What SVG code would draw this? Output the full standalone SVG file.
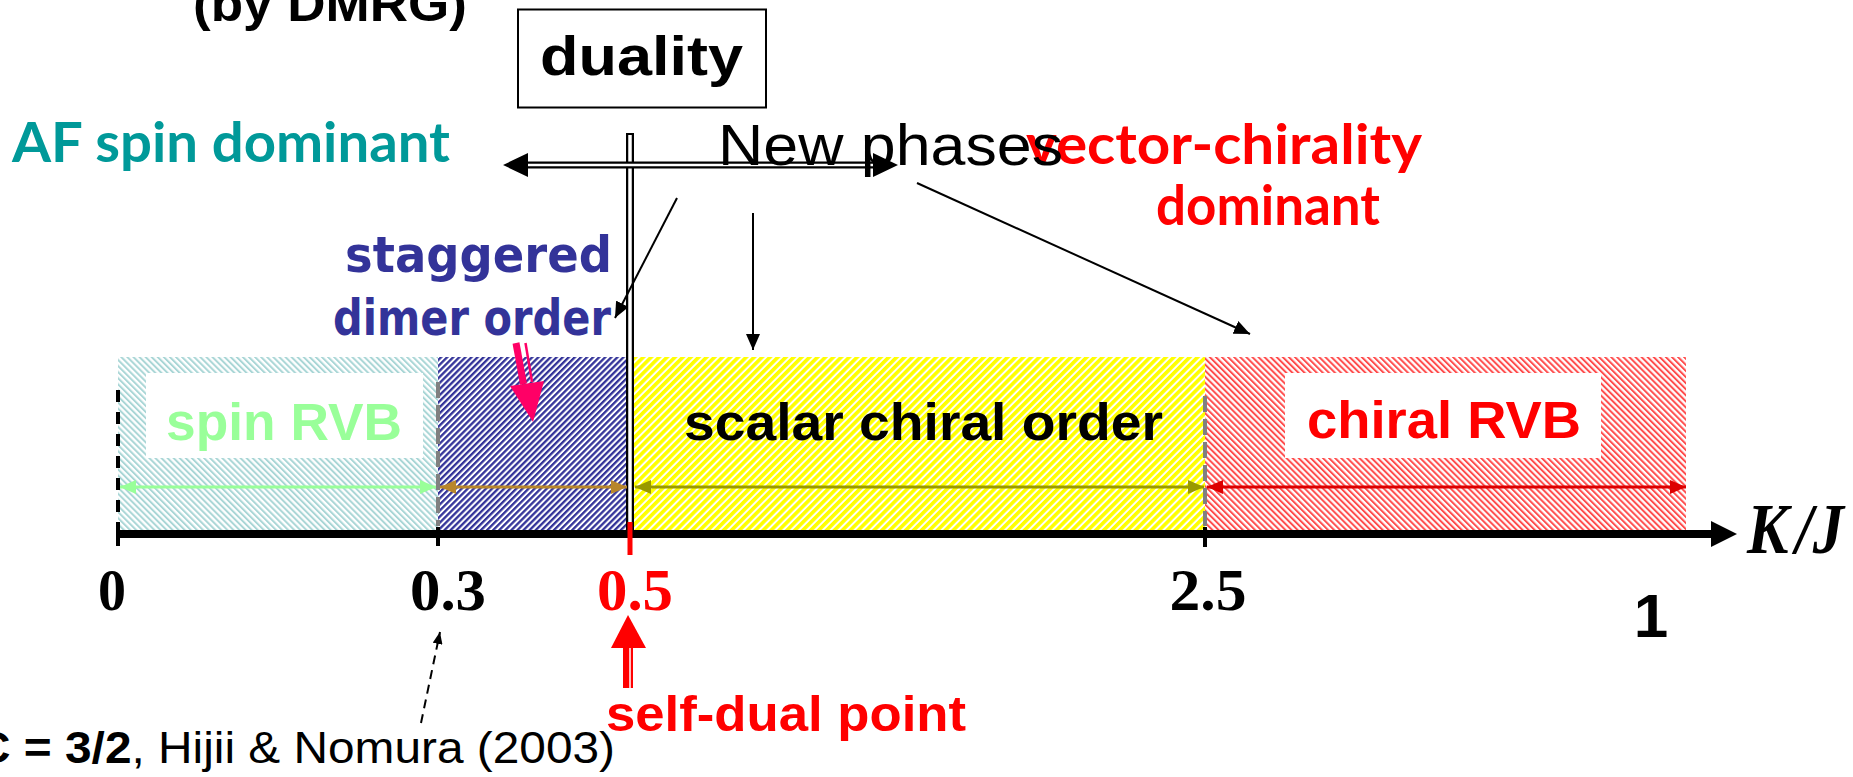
<svg xmlns="http://www.w3.org/2000/svg" width="1853" height="777" viewBox="0 0 1853 777">
<style>
.sans{font-family:"Liberation Sans",Arial,sans-serif}
.b{font-weight:bold}
.comic{font-family:Lato,"Liberation Sans",sans-serif;font-weight:bold}
.tah{font-family:"DejaVu Sans",sans-serif;font-weight:bold}
.num{font-family:"Liberation Serif","Times New Roman",serif;font-weight:bold;font-size:60px}
.thin{stroke:#000;stroke-width:2;fill:none}
.labelbox{fill:#fff;stroke:none}
</style>
<defs>
<pattern id="hTeal" patternUnits="userSpaceOnUse" width="4.3" height="10" patternTransform="rotate(-45)"><rect width="4.3" height="10" fill="#fff"/><rect width="2" height="10" fill="#A9D6D6"/></pattern>
<pattern id="hBlue" patternUnits="userSpaceOnUse" width="4.3" height="10" patternTransform="rotate(45)"><rect width="4.3" height="10" fill="#fff"/><rect width="2.3" height="10" fill="#333399"/></pattern>
<pattern id="hYellow" patternUnits="userSpaceOnUse" width="5.6" height="10" patternTransform="rotate(45)"><rect width="5.6" height="10" fill="#fff"/><rect width="3.6" height="10" fill="#FFFF00"/></pattern>
<pattern id="hRed" patternUnits="userSpaceOnUse" width="4.3" height="10" patternTransform="rotate(-45)"><rect width="4.3" height="10" fill="#fff"/><rect width="2" height="10" fill="#FF4D4D"/></pattern>
<marker id="aBlack" markerUnits="userSpaceOnUse" markerWidth="16" markerHeight="14" refX="16" refY="7" orient="auto"><path d="M0,0 L16,7 L0,14 z" fill="#000"/></marker>
<marker id="aBlackS" markerUnits="userSpaceOnUse" markerWidth="12" markerHeight="10" refX="12" refY="5" orient="auto"><path d="M0,0 L12,5 L0,10 z" fill="#000"/></marker>
<marker id="aGreen" markerUnits="userSpaceOnUse" markerWidth="16" markerHeight="14" refX="16" refY="7" orient="auto-start-reverse"><path d="M0,0 L16,7 L0,14 z" fill="#99FF99"/></marker>
<marker id="aBrown" markerUnits="userSpaceOnUse" markerWidth="16" markerHeight="14" refX="16" refY="7" orient="auto-start-reverse"><path d="M0,0 L16,7 L0,14 z" fill="#B8862B"/></marker>
<marker id="aOlive" markerUnits="userSpaceOnUse" markerWidth="16" markerHeight="14" refX="16" refY="7" orient="auto-start-reverse"><path d="M0,0 L16,7 L0,14 z" fill="#999900"/></marker>
<marker id="aRed" markerUnits="userSpaceOnUse" markerWidth="16" markerHeight="14" refX="16" refY="7" orient="auto-start-reverse"><path d="M0,0 L16,7 L0,14 z" fill="#DD0000"/></marker>
</defs>
<rect width="1853" height="777" fill="#fff"/>

<text class="sans b" x="193" y="21" font-size="50" textLength="274" lengthAdjust="spacingAndGlyphs">(by DMRG)</text>

<g id="region-spin-rvb">
<rect x="118" y="357" width="320" height="174" fill="url(#hTeal)"/>
<rect class="labelbox" x="146" y="373" width="277" height="85"/>
<text class="sans b" x="166" y="440" font-size="51" fill="#99FF99" textLength="236" lengthAdjust="spacingAndGlyphs">spin RVB</text>
</g>
<g id="region-dimer">
<rect x="438" y="357" width="191" height="174" fill="url(#hBlue)"/>
</g>
<g id="region-scalar">
<rect x="634" y="357" width="571" height="174" fill="url(#hYellow)"/>
<text class="sans b" x="684" y="440" font-size="52" fill="#000" textLength="479" lengthAdjust="spacingAndGlyphs">scalar chiral order</text>
</g>
<g id="region-chiral-rvb">
<rect x="1205" y="357" width="481" height="174" fill="url(#hRed)"/>
<rect class="labelbox" x="1285" y="373" width="316" height="85"/>
<text class="sans b" x="1307" y="438" font-size="51" fill="#FF0000" textLength="274" lengthAdjust="spacingAndGlyphs">chiral RVB</text>
</g>

<g id="duality">
<rect x="518" y="9.5" width="248" height="98" fill="#fff" stroke="#000" stroke-width="2"/>
<text class="sans b" x="540" y="75" font-size="56" textLength="203" lengthAdjust="spacingAndGlyphs">duality</text>
</g>

<g id="af-spin">
<text class="comic" x="12" y="162" font-size="55" fill="#009999" textLength="438" lengthAdjust="spacingAndGlyphs">AF spin dominant</text>
</g>

<g id="vector-chirality">
<text class="comic" x="1026" y="164" font-size="55" fill="#FF0000" textLength="396" lengthAdjust="spacingAndGlyphs">vector-chirality</text>
<text class="comic" x="1156" y="225" font-size="55" fill="#FF0000" textLength="224" lengthAdjust="spacingAndGlyphs">dominant</text>
</g>

<g id="staggered">
<text class="tah" x="345" y="272" font-size="50" fill="#333399" textLength="267" lengthAdjust="spacingAndGlyphs">staggered</text>
<text class="tah" x="333" y="335" font-size="50" fill="#333399" textLength="278" lengthAdjust="spacingAndGlyphs">dimer order</text>
</g>

<g id="connectors">
<line x1="630" y1="133" x2="630" y2="531" stroke="#000" stroke-width="8"/>
<line x1="630" y1="135" x2="630" y2="531" stroke="#fff" stroke-width="3.5"/>
<line x1="524" y1="165" x2="877" y2="165" stroke="#000" stroke-width="7"/>
<line x1="527" y1="165" x2="874" y2="165" stroke="#fff" stroke-width="2.5"/>
<path d="M503,165 L528,153 L528,177 z M898,165 L873,153 L873,177 z" fill="#000"/>
<line class="thin" x1="677" y1="198" x2="615" y2="318" marker-end="url(#aBlack)"/>
<line class="thin" x1="753" y1="213" x2="753" y2="350" marker-end="url(#aBlack)"/>
<line class="thin" x1="917" y1="183" x2="1250" y2="334" marker-end="url(#aBlack)"/>
<line x1="120" y1="487" x2="436" y2="487" stroke="#99FF99" stroke-width="3" marker-start="url(#aGreen)" marker-end="url(#aGreen)"/>
<line x1="440" y1="487" x2="627" y2="487" stroke="#B8862B" stroke-width="3" marker-start="url(#aBrown)" marker-end="url(#aBrown)"/>
<line x1="635" y1="487" x2="1204" y2="487" stroke="#999900" stroke-width="3" marker-start="url(#aOlive)" marker-end="url(#aOlive)"/>
<line x1="1207" y1="487" x2="1686" y2="487" stroke="#DD0000" stroke-width="3" marker-start="url(#aRed)" marker-end="url(#aRed)"/>
<line x1="516" y1="343" x2="523.5" y2="384" stroke="#FF0066" stroke-width="7"/>
<line x1="525.5" y1="343" x2="532" y2="382" stroke="#FF0066" stroke-width="2.5"/>
<path d="M533,422 L510,386 L544,381 z" fill="#FF0066"/>
<path d="M628,615 L611,648 L646,648 z" fill="#FF0000"/>
<rect x="623" y="647" width="10" height="41" fill="#FF0000"/>
<line x1="630" y1="648" x2="630" y2="688" stroke="#fff" stroke-width="1.5"/>
<line class="thin" x1="421" y1="723" x2="440" y2="632" stroke-dasharray="9 6" marker-end="url(#aBlackS)"/>
</g>

<g id="axis">
<line x1="118" y1="390" x2="118" y2="527" stroke="#000" stroke-width="4" stroke-dasharray="12 10"/>
<line x1="118" y1="527" x2="118" y2="546" stroke="#000" stroke-width="4"/>
<line x1="438" y1="382" x2="438" y2="526" stroke="#808080" stroke-width="4" stroke-dasharray="16 7"/>
<line x1="438" y1="527" x2="438" y2="546" stroke="#000" stroke-width="4"/>
<line x1="1205" y1="396" x2="1205" y2="526" stroke="#808080" stroke-width="4" stroke-dasharray="16 7"/>
<line x1="1205" y1="527" x2="1205" y2="547" stroke="#000" stroke-width="4"/>
<line x1="116" y1="534" x2="1713" y2="534" stroke="#000" stroke-width="8"/>
<path d="M1711,521 L1737,534 L1711,547 z" fill="#000"/>
<line x1="630" y1="522" x2="630" y2="555" stroke="#FF0000" stroke-width="5"/>
</g>

<g id="new-phases">
<text class="sans" x="718" y="165" font-size="57" fill="#000" textLength="345" lengthAdjust="spacingAndGlyphs">New phases</text>
</g>

<g id="labels">
<text class="num" x="112" y="610" text-anchor="middle" textLength="28" lengthAdjust="spacingAndGlyphs">0</text>
<text class="num" x="448" y="610" text-anchor="middle" textLength="76" lengthAdjust="spacingAndGlyphs">0.3</text>
<text class="num" x="635" y="610" text-anchor="middle" fill="#FF0000" textLength="76" lengthAdjust="spacingAndGlyphs">0.5</text>
<text class="num" x="1208" y="610" text-anchor="middle" textLength="77" lengthAdjust="spacingAndGlyphs">2.5</text>
<text x="1747" y="553" font-family="'Liberation Serif','Times New Roman',serif" font-weight="bold" font-style="italic" font-size="72" textLength="97" lengthAdjust="spacingAndGlyphs">K<tspan dx="8">/J</tspan></text>
<text class="sans b" x="1651" y="637" font-size="62" text-anchor="middle">1</text>
<text class="sans b" x="606" y="731" font-size="50" fill="#FF0000" textLength="360" lengthAdjust="spacingAndGlyphs">self-dual point</text>
<text class="sans" x="-24" y="763" font-size="44" textLength="639" lengthAdjust="spacingAndGlyphs"><tspan font-weight="bold">C = 3/2</tspan>, Hijii &amp; Nomura (2003)</text>
</g>
</svg>
